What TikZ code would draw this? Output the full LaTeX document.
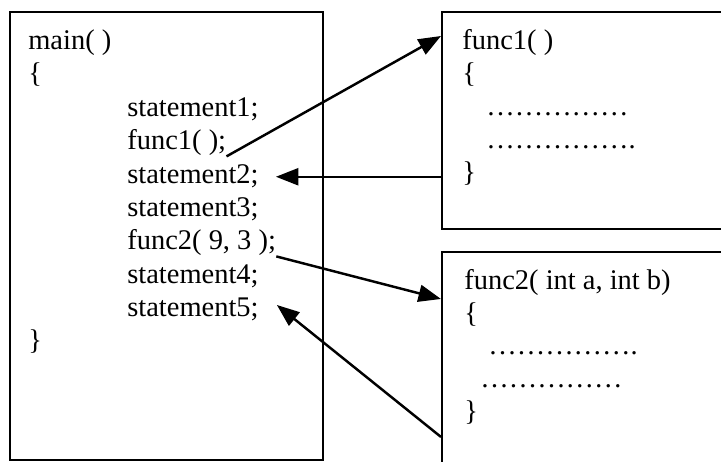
\documentclass[tikz,border=0pt]{standalone}
\usepackage{fontspec}
\setmainfont{Liberation Serif}
\usetikzlibrary{arrows.meta}

\begin{document}
\begin{tikzpicture}[x=0.02cm,y=-0.02cm,
  code/.style={anchor=base west,inner sep=0pt,font=\fontsize{16.2}{19}\selectfont},
  box/.style={draw,line width=1.3pt,anchor=north west,inner sep=0pt},
  flow/.style={line width=1.4pt,-{Triangle[length=0.45cm,width=0.34cm]}}]
\useasboundingbox (0,0) rectangle (721,462);
\clip (0,0) rectangle (721,462);

% the three boxes
\node[box,minimum width=6.26cm,minimum height=8.96cm] (mainbox) at (9,11) {};
\node[box,minimum width=6cm,minimum height=4.34cm] (fonebox) at (441,11) {};
\node[box,minimum width=6cm,minimum height=4.6cm] (ftwobox) at (441,251) {};

% main
\node[code] (m1) at (28,50) {main( )};
\node[code] (m2) at (28,83) {\{};
\node[code] (m3) at (127,117) {statement1;};
\node[code] (m4) at (127,150) {func1( );};
\node[code] (m5) at (127,184) {statement2;};
\node[code] (m6) at (127,217) {statement3;};
\node[code] (m7) at (127,250) {func2( 9, 3 );};
\node[code] (m8) at (127,284) {statement4;};
\node[code] (m9) at (127,317) {statement5;};
\node[code] (m10) at (28,350) {\}};

% func1
\node[code] (a1) at (462,50) {func1( )};
\node[code] (a2) at (462,83) {\{};
\node[code] (a3) at (486,116) {……………};
\node[code] (a4) at (486,149) {…………….};
\node[code] (a5) at (462,182) {\}};

% func2
\node[code] (b1) at (464,290) {func2( int a, int b)};
\node[code] (b2) at (464,323) {\{};
\node[code] (b3) at (488,355) {…………….};
\node[code] (b4) at (480,388) {……………};
\node[code] (b5) at (464,421) {\}};

% calls and returns
\coordinate (in1) at ([yshift=-0.5cm]fonebox.north west);
\coordinate (in2) at ([yshift=-0.96cm]ftwobox.north west);
\coordinate (out2) at ([yshift=-3.72cm]ftwobox.north west);
\draw[flow] (m4.south east) -- (in1);
\draw[flow] (fonebox.west |- m5.east) -- ([xshift=0.34cm]m5.east);
\draw[flow] (m7.south east) -- (in2);
\draw[flow] (out2) -- ([xshift=0.36cm,yshift=-0.14cm]m9.north east);
\end{tikzpicture}
\end{document}
